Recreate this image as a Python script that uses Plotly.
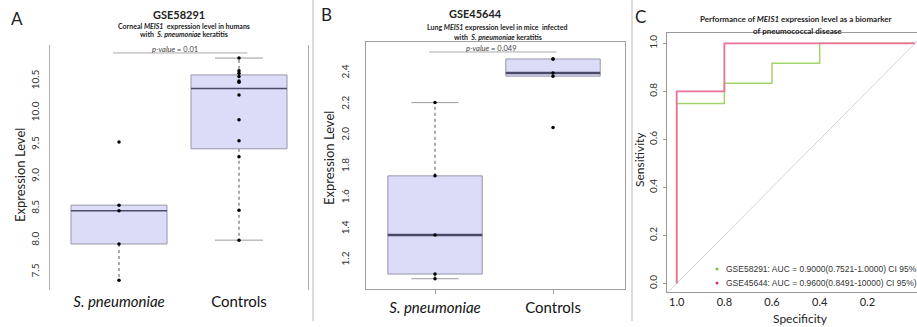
import plotly.graph_objects as go
import numpy as np

# ---------------- data ----------------
groups = ["S. pneumoniae", "Controls"]
a_spn = [7.37, 7.94, 8.46, 8.55, 9.54]
a_ctl = [8.00, 8.47, 9.31, 9.56, 9.89, 10.28, 10.48, 10.50, 10.57, 10.62, 10.66, 10.86]
b_spn = [1.08, 1.11, 1.36, 1.74, 2.21]
b_ctl = [2.05, 2.38, 2.40, 2.49, 2.49]
a_yticks = [7.5, 8.0, 8.5, 9.0, 9.5, 10.0, 10.5]
b_yticks = [1.2, 1.4, 1.6, 1.8, 2.0, 2.2, 2.4]
roc_ticks = [1.0, 0.8, 0.6, 0.4, 0.2, 0.0]
legend_labels = ["GSE58291: AUC = 0.9000(0.7521-1.0000) CI 95%",
                 "GSE45644: AUC = 0.9600(0.8491-10000) CI 95%)"]
pvals = ["0.01", "0.049"]

W, H = 917, 327
FONT = "Lato"
BOX_FILL = "#dcdcf9"
BOX_LINE = "#9696aa"
MED_COL = "#4a4a66"
GREEN = "#a3d46a"
PINK = "#ec7098"


def px(x):
    return x / W


def py(y):
    return 1 - y / H


def fivenum(v):
    v = sorted(v)
    n = len(v)
    n4 = np.floor((n + 3) / 2) / 2
    d = [1, n4, (n + 1) / 2, n + 1 - n4, n]
    return [0.5 * (v[int(np.floor(i)) - 1] + v[int(np.ceil(i)) - 1]) for i in d]


fig = go.Figure()


def add_box(vals, pos, xa, ya, medw, cap_lo=True, cap_hi=True):
    mn, q1, med, q3, mx = fivenum(vals)
    iqr = q3 - q1
    lo = min(v for v in vals if v >= q1 - 1.5 * iqr)
    hi = max(v for v in vals if v <= q3 + 1.5 * iqr)
    hw = 0.4
    common = dict(xaxis=xa, yaxis=ya, showlegend=False, hoverinfo="skip")
    for a, b, cap in ((q1, lo, cap_lo), (q3, hi, cap_hi)):
        if a != b:
            fig.add_trace(go.Scatter(x=[pos, pos], y=[a, b], mode="lines",
                                     line=dict(color="#555", width=1, dash="dot"), **common))
            if cap:
                fig.add_trace(go.Scatter(x=[pos - hw / 2, pos + hw / 2], y=[b, b], mode="lines",
                                         line=dict(color="#9a9a9a", width=1), **common))
    fig.add_trace(go.Scatter(x=[pos - hw, pos + hw, pos + hw, pos - hw, pos - hw],
                             y=[q1, q1, q3, q3, q1], mode="lines", fill="toself",
                             fillcolor=BOX_FILL, line=dict(color=BOX_LINE, width=1), **common))
    fig.add_trace(go.Scatter(x=[pos - hw, pos + hw], y=[med, med], mode="lines",
                             line=dict(color=MED_COL, width=medw), **common))
    fig.add_trace(go.Scatter(x=[pos] * len(vals), y=vals, mode="markers",
                             marker=dict(color="black", size=3.5), **common))


add_box(a_spn, 1, "x", "y", 1.5, cap_lo=False)
add_box(a_ctl, 2, "x", "y", 1.5)
add_box(b_spn, 1, "x2", "y2", 2.5)
add_box(b_ctl, 2, "x2", "y2", 2.5)

# p-value bars
fig.add_trace(go.Scatter(x=[0.95, 2.07], y=[10.94, 10.94], mode="lines", xaxis="x", yaxis="y",
                         line=dict(color="#aaaaaa", width=1), showlegend=False, hoverinfo="skip"))
fig.add_trace(go.Scatter(x=[0.95, 2.03], y=[2.535, 2.535], mode="lines", xaxis="x2", yaxis="y2",
                         line=dict(color="#aaaaaa", width=1), showlegend=False, hoverinfo="skip"))


def roc(cases, controls):
    thr = sorted(set(cases + controls), reverse=True)
    spec, sens = [1.0], [0.0]
    for t in thr:
        sens.append(np.mean([c >= t for c in controls]))
        spec.append(np.mean([c < t for c in cases]))
    spec.append(0.0)
    sens.append(1.0)
    return spec, sens


fig.add_trace(go.Scatter(x=[1.1, -0.1], y=[-0.1, 1.1], mode="lines", xaxis="x3", yaxis="y3",
                         line=dict(color="#d4d4d4", width=1), showlegend=False, hoverinfo="skip"))
sp, se = roc(a_spn, a_ctl)
fig.add_trace(go.Scatter(x=sp, y=se, mode="lines", xaxis="x3", yaxis="y3",
                         line=dict(color=GREEN, width=1.5), showlegend=False, hoverinfo="skip"))
sp, se = roc(b_spn, b_ctl)
fig.add_trace(go.Scatter(x=sp, y=se, mode="lines", xaxis="x3", yaxis="y3",
                         line=dict(color=PINK, width=1.8), showlegend=False, hoverinfo="skip"))

tickfont = dict(family=FONT, size=10, color="#333")
grpticks = ["<i>S. pneumoniae</i>", "Controls"]

fig.update_layout(
    width=W, height=H, margin=dict(l=0, r=0, t=0, b=0),
    paper_bgcolor="white", plot_bgcolor="white",
    font=dict(family=FONT, color="#222"),
    xaxis=dict(domain=[px(50), px(308)], range=[0.425, 2.575], tickvals=[1, 2], ticktext=grpticks,
               anchor="y", showline=False, showgrid=False, zeroline=False, ticks="",
               tickfont=dict(family=FONT, size=15, color="#111"), ticklabelstandoff=1),
    yaxis=dict(domain=[py(290), py(45)], range=[7.217, 11.065], tickvals=a_yticks, anchor="x",
               tickformat=".1f", tickangle=-90, showline=True, mirror=True, linecolor="#b0b0b0",
               linewidth=1, showgrid=False, zeroline=False, ticks="", tickfont=tickfont,
               ticklabelstandoff=6),
    xaxis2=dict(domain=[px(366), px(625)], range=[0.415, 2.61], tickvals=[1, 2], ticktext=grpticks,
                anchor="y2", showline=True, mirror=True, linecolor="#a0a0a0", linewidth=1,
                showgrid=False, zeroline=False, ticks="outside", ticklen=4, tickcolor="#a0a0a0",
                tickfont=dict(family=FONT, size=15, color="#111"), ticklabelstandoff=1),
    yaxis2=dict(domain=[py(289), py(42)], range=[1.014, 2.599], tickvals=b_yticks, anchor="x2",
                tickformat=".1f", tickangle=-90, showline=True, mirror=True, linecolor="#a0a0a0",
                linewidth=1, showgrid=False, zeroline=False, ticks="", tickfont=tickfont,
                ticklabelstandoff=12),
    xaxis3=dict(domain=[px(667), 1.0], range=[1.0407, -0.0084], tickvals=roc_ticks, anchor="y3",
                tickformat=".1f", showline=True, mirror=True, linecolor="#999", linewidth=1,
                showgrid=False, zeroline=False, ticks="",
                tickfont=dict(family=FONT, size=11, color="#222"), ticklabelstandoff=0),
    yaxis3=dict(domain=[py(292), py(33)], range=[-0.0353, 1.043], tickvals=roc_ticks, anchor="x3",
                tickformat=".1f", tickangle=-90, showline=True, mirror=True, linecolor="#999",
                linewidth=1, showgrid=False, zeroline=False, ticks="outside", ticklen=3,
                tickcolor="#999", tickfont=tickfont, ticklabelstandoff=2),
)

ann = []


def txt(x, y, s, size, **kw):
    d = dict(x=px(x), y=py(y), xref="paper", yref="paper", text=s, showarrow=False,
             xanchor="center", yanchor="middle", borderpad=0,
             font=dict(family=kw.pop("family", FONT), size=size, color=kw.pop("color", "#222")))
    d.update(kw)
    ann.append(d)


txt(17, 18, "A", 17)
txt(326, 14, "B", 17)
txt(640, 17, "C", 17)
txt(179, 14, "<b>GSE58291</b>", 11)
txt(184, 26, "<b>Corneal <i>MEIS1</i>  expression level in humans</b>", 7)
txt(184, 34, "<b>with  <i>S. pneumoniae</i> keratitis</b>", 7)
txt(475, 13, "<b>GSE45644</b>", 11)
txt(497, 27, "<b>Lung <i>MEIS1</i> expression level in mice  infected</b>", 7)
txt(498, 37, "<b>with  <i>S. pneumoniae</i> keratitis</b>", 7)
txt(796, 19, "<b>Performance of <i>MEIS1</i> expression level as a biomarker</b>", 8)
txt(797, 31, "<b>of pneumococcal disease</b>", 8)
txt(175, 49, "<i>p-value</i> = " + pvals[0], 7.5, color="#444")
txt(491, 48, "<i>p-value</i> = " + pvals[1], 7.5, color="#444")
txt(20, 175, "Expression Level", 13, textangle=-90)
txt(329, 158, "Expression Level", 13, textangle=-90)
txt(639, 160, "Sensitivity", 12, textangle=-90)
txt(800, 318, "Specificity", 12)
for i, (lab, col) in enumerate(zip(legend_labels, ["#7dc242", "#d6336c"])):
    y = 269 + 14 * i
    txt(725, y, lab, 8.5, family="Liberation Sans", color="#333", xanchor="left")
    fig.add_shape(type="circle", xref="paper", yref="paper",
                  x0=px(715.5), x1=px(718.5), y0=py(y + 1.5), y1=py(y - 1.5),
                  fillcolor=col, line=dict(width=0))
fig.update_layout(annotations=ann)

for xs in (313, 632):
    fig.add_shape(type="line", xref="paper", yref="paper", x0=px(xs), x1=px(xs),
                  y0=py(321), y1=1, line=dict(color="#d0d0d0", width=1.5))

fig.write_html("out.html", config={"displayModeBar": False},
               post_script="document.body.style.margin='0';")
